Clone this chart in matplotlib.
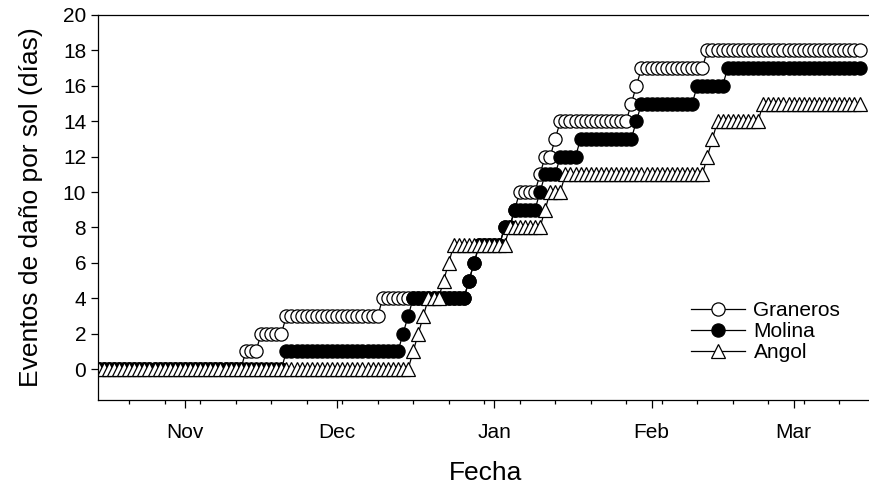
import numpy as np
import pandas as pd
import matplotlib
matplotlib.use("Agg")
import matplotlib.pyplot as plt
import matplotlib.dates as mdates

plt.rcParams['font.family'] = ['Liberation Sans', 'DejaVu Sans']

# daily record, 15 Oct - 14 Mar
start = "2006-10-15"
end = "2007-03-14"

# dates of each sunburn damage event per site
graneros_events = ["2006-11-13", "2006-11-16", "2006-11-21", "2006-12-10", "2006-12-27",
                   "2006-12-28", "2006-12-29", "2007-01-03", "2007-01-05", "2007-01-06",
                   "2007-01-10", "2007-01-11", "2007-01-13", "2007-01-14", "2007-01-28",
                   "2007-01-29", "2007-01-30", "2007-02-12"]
molina_events = ["2006-11-21", "2006-12-14", "2006-12-15", "2006-12-16", "2006-12-27",
                 "2006-12-28", "2006-12-29", "2007-01-03", "2007-01-05", "2007-01-10",
                 "2007-01-11", "2007-01-14", "2007-01-18", "2007-01-29", "2007-01-30",
                 "2007-02-10", "2007-02-16"]
angol_events = ["2006-12-16", "2006-12-17", "2006-12-18", "2006-12-19", "2006-12-22",
                "2006-12-23", "2006-12-24", "2007-01-04", "2007-01-11", "2007-01-12",
                "2007-01-15", "2007-02-12", "2007-02-13", "2007-02-14", "2007-02-23"]

site_names = ["Graneros", "Molina", "Angol"]

days = pd.date_range(start, end, freq="D")

def cumulative(events):
	ev = pd.to_datetime(events).values
	return np.searchsorted(np.sort(ev), days.values, side="right")

fig = plt.figure(figsize=(8.7, 4.91), dpi=100)
ax = fig.add_axes([98 / 870, (491 - 400) / 491, (874 - 98) / 870, (400 - 15) / 491])

styles = [dict(marker="o", mfc="white", ms=9.5), dict(marker="o", mfc="black", ms=9.5),
          dict(marker="^", mfc="white", ms=10.5)]
for name, events, st in zip(site_names, [graneros_events, molina_events, angol_events], styles):
	ax.plot(days, cumulative(events), color="black", lw=0.9, mec="black", mew=0.9,
	        label=name, **st)

ax.set_ylim(-1.75, 20)
ax.set_yticks(np.arange(0, 21, 2))
x0 = mdates.date2num(pd.Timestamp(start)) - 0.15
ax.set_xlim(x0, x0 + 153)

ax.xaxis.set_major_locator(mdates.MonthLocator(bymonth=[11, 12, 1, 2, 3]))
ax.xaxis.set_major_formatter(mdates.DateFormatter("%b"))
ax.set_xticks(pd.date_range("2006-10-21", "2007-03-10", freq="7D"), minor=True)
ax.tick_params(axis="x", which="major", length=5.5, width=0.9, labelsize=15, pad=11)
ax.tick_params(axis="x", which="minor", length=3, width=0.9)
ax.tick_params(axis="y", length=5, width=0.9, labelsize=15)
ax.spines["right"].set_visible(False)
for s in ["left", "bottom", "top"]:
	ax.spines[s].set_linewidth(0.9)

ax.set_xlabel("Fecha", fontsize=19, labelpad=14)
ax.set_ylabel("Eventos de daño por sol (días)", fontsize=19, labelpad=14)

ax.legend(loc="center left", bbox_to_anchor=(0.74, 0.178), frameon=False, fontsize=15,
          numpoints=1, handlelength=2.6, handletextpad=0.4, labelspacing=0.1)

fig.savefig("out.png", dpi=100)
